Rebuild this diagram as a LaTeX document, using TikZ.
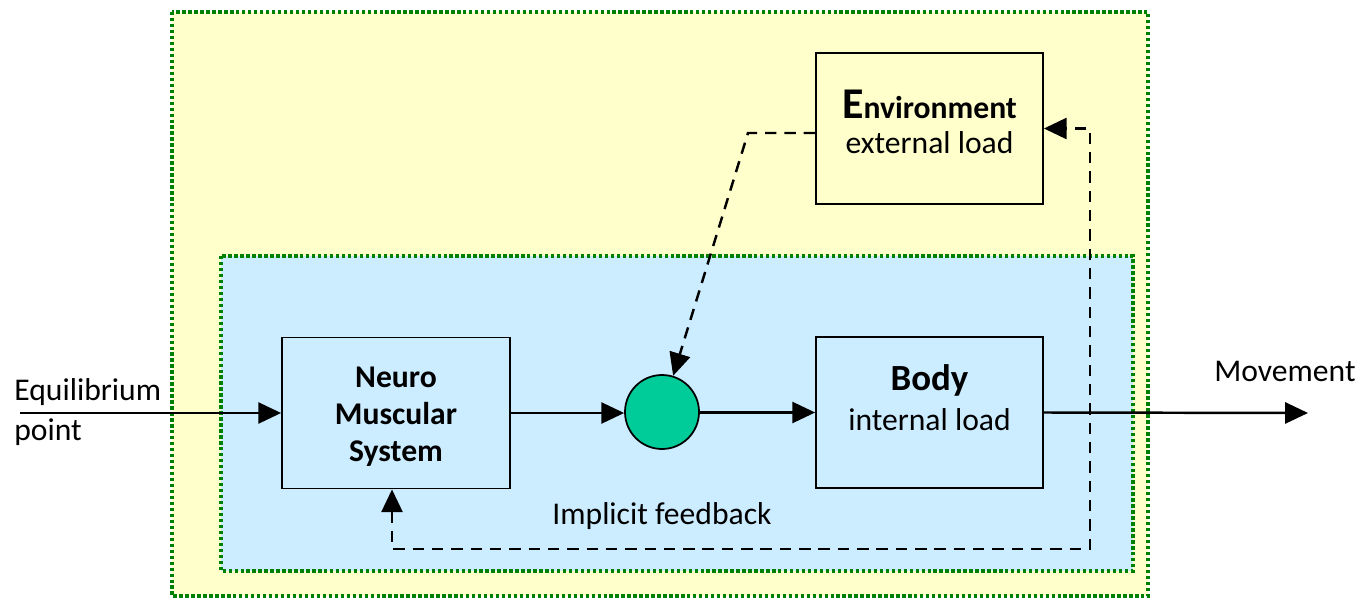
\documentclass[tikz,border=0pt]{standalone}
\usepackage{fontspec}
\setmainfont{Carlito}
\usetikzlibrary{arrows.meta}
\definecolor{zoneyellow}{HTML}{FFFFCC}
\definecolor{zoneblue}{HTML}{CCECFF}
\definecolor{zonegreen}{HTML}{008000}
\definecolor{sumgreen}{HTML}{00CC99}
\tikzset{
  >={Triangle[length=13pt,width=12pt]},
  zone/.style={draw=zonegreen, line width=2.1pt, dash pattern=on 1.9pt off 1.5pt},
  block/.style={draw=black, line width=1pt, inner sep=0pt, rectangle},
  lbl/.style={inner sep=0pt, font=\fontsize{18}{22}\selectfont},
  flow/.style={line width=1.4pt, ->},
  fb/.style={line width=1.4pt, dash pattern=on 6.5pt off 4.5pt}
}
\begin{document}
\begin{tikzpicture}[x=0.02cm,y=-0.02cm]
\useasboundingbox (0,0) rectangle (1368,598);

% nested frames
\draw[zone, fill=zoneyellow] (172,12) rectangle (1148,596);
\draw[zone, fill=zoneblue] (221,256) rectangle (1133,571);

% blocks
\node[block, fill=zoneyellow, minimum width=227*0.02cm, minimum height=151*0.02cm] (env) at (929.5,128.5) {};
\node[lbl] (envtitle) at (929.5,104) {\bfseries{\fontsize{25}{28}\selectfont E}nvironment};
\node[lbl] (envsub) at (929.5,143) {external load};

\node[block, fill=zoneblue, minimum width=228*0.02cm, minimum height=151*0.02cm] (nms) at (396,413) {};
\node[lbl, align=center, font=\fontsize{18}{21}\selectfont\bfseries] (nmstext) at (396,417) {Neuro\\Muscular\\System};

\node[circle, draw=black, line width=1pt, fill=sumgreen, inner sep=0pt, minimum size=74*0.02cm] (sum) at (662,412) {};

\node[block, fill=zoneblue, minimum width=227*0.02cm, minimum height=151*0.02cm] (body) at (929.5,412.5) {};
\node[lbl, font=\fontsize{21}{24}\selectfont\bfseries] (bodytitle) at (929.5,380) {Body};
\node[lbl] (bodysub) at (929.5,420) {internal load};

% free texts
\node[lbl, align=left, anchor=west, font=\fontsize{18}{22.7}\selectfont] (eqtext) at (14,412) {Equilibrium\\point};
\node[lbl] (movtext) at (1285,371) {Movement};
\node[lbl] (fbtext) at (662,516) {Implicit feedback};

% main signal path
\coordinate (instart) at (20,413);
\coordinate (outend) at (1308,413);
\draw[flow] (instart) -- (nms.west);
\draw[flow] (nms.east) -- (nms.east -| sum.west);
\draw[flow] (sum.east |- body.west) -- (body.west);
\draw[flow] (body.east) -- (outend);

% external load entering the summing point
\coordinate (ebend) at (748,133);
\draw[fb, ->] (env.west |- ebend) -- (ebend) -- (sum);

% feedback loop
\coordinate (fbl) at (392,549);
\coordinate (fbr) at (1090,549);
\draw[fb, <->] (fbl |- nms.south) -- (fbl) -- (fbr) -- (fbr |- env.east) -- (env.east);
\end{tikzpicture}
\end{document}
